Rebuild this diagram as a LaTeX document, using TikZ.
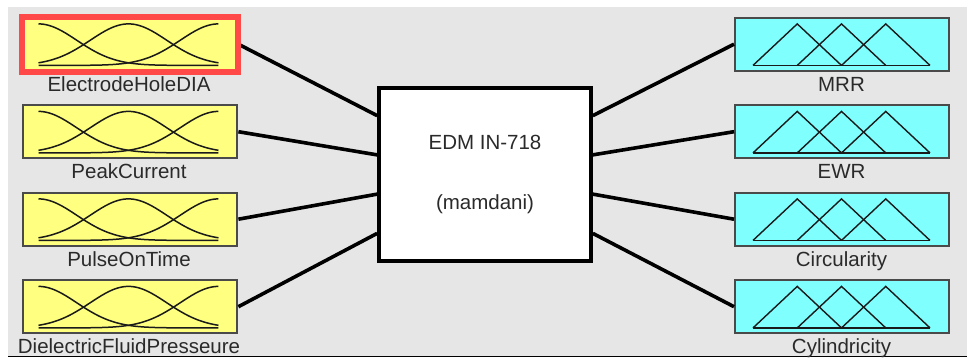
\documentclass[tikz,border=0pt]{standalone}
\usepackage{fontspec}
\setmainfont{Liberation Sans}
\usetikzlibrary{calc}

\definecolor{panel}{HTML}{E6E6E6}
\definecolor{invar}{HTML}{FFFF80}
\definecolor{outvar}{HTML}{80FFFF}
\definecolor{boxedge}{HTML}{4A4A4A}
\definecolor{hilite}{HTML}{FF4848}
\definecolor{labeltext}{HTML}{2A2A2A}
\definecolor{mfink}{HTML}{1A1A1A}

\tikzset{
  varbox/.style={draw=boxedge, line width=2.4pt, minimum width=214pt,
    minimum height=53pt, inner sep=0pt, anchor=north west},
  inbox/.style={varbox, fill=invar},
  outbox/.style={varbox, fill=outvar},
  mfline/.style={draw=mfink, line width=1.5pt},
  varlabel/.style={font=\fontsize{20.5}{24}\selectfont, text=labeltext,
    anchor=base, inner sep=0pt},
  link/.style={draw=black, line width=3.6pt},
  corebox/.style={draw=black, line width=3.6pt, fill=white,
    minimum width=212pt, minimum height=173pt, align=center,
    font=\fontsize{20.5}{24}\selectfont, text=labeltext},
  selbox/.style={draw=hilite, line width=6pt}
}

\begin{document}
\begin{tikzpicture}[x=1pt, y=-1pt]
  \useasboundingbox (0,0) rectangle (967,359);

  % editor panel
  \fill[panel] (8,7) rectangle (967,356);
  \draw[black, line width=1.5pt] (8,356.5) -- (967,356.5);

  % fuzzy inference system block
  \node[corebox] (core) at (485,174.5) {EDM IN-718\\[36pt](mamdani)};

  % input variables with Gaussian membership functions
  \foreach \i/\name in {0/ElectrodeHoleDIA, 1/PeakCurrent, 2/PulseOnTime, 3/DielectricFluidPresseure} {
    \node[inbox] (in\i) at (22, 16.5+87.5*\i) {};
    \begin{scope}[shift={(in\i.south west)}]
      \foreach \c in {0, 0.5, 1} {
        \draw[mfline] plot[domain=0:1, samples=81, smooth]
          ({16.5+180*\x}, {-6.5-41.5*exp(-1*(\x-\c)*(\x-\c)/0.09014)});
      }
    \end{scope}
    \node[varlabel] (inlabel\i) at (129, 91+87.5*\i) {\name};
  }

  % output variables with triangular membership functions
  \foreach \i/\name in {0/MRR, 1/EWR, 2/Circularity, 3/Cylindricity} {
    \node[outbox] (out\i) at (734, 16.5+87.5*\i) {};
    \begin{scope}[shift={(out\i.south west)}]
      \draw[mfline, line width=1.4pt] (19,-6.5) -- (196,-6.5);
      \foreach \a in {0, 44.25, 88.5} {
        \draw[mfline, line width=1.4pt, line join=miter]
          ({19+\a},-6.5) -- ({19+\a+44.25},-48) -- ({19+\a+88.5},-6.5);
      }
    \end{scope}
    \node[varlabel] (outlabel\i) at (841.5, 91+87.5*\i) {\name};
  }

  % connectors into and out of the inference block
  \foreach \i/\f in {0/0.1667, 1/0.3889, 2/0.6111, 3/0.8333} {
    \draw[link] (in\i.east) -- ($(core.north west)!\f!(core.south west)$);
    \draw[link] ($(core.north east)!\f!(core.south east)$) -- (out\i.west);
  }

  % selected variable
  \draw[selbox] (in0.north west) rectangle (in0.south east);
\end{tikzpicture}
\end{document}
